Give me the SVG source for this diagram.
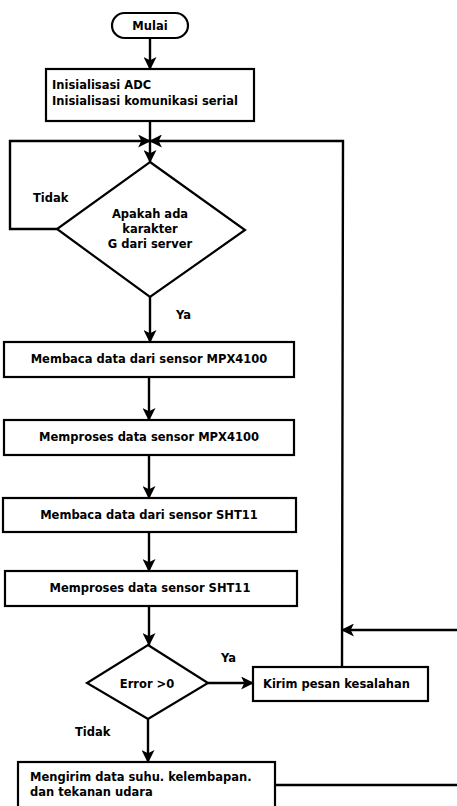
<svg xmlns="http://www.w3.org/2000/svg" width="457" height="806" viewBox="0 0 457 806">
  <style>
    .shape { fill: #ffffff; stroke: #000000; stroke-width: 2.2; }
    .line { fill: none; stroke: #000000; stroke-width: 2.4; }
    .t { font-family: "DejaVu Sans", "Liberation Sans", sans-serif; font-weight: bold; font-size: 11.5px; fill: #000000; }
    .c { text-anchor: middle; }
  </style>
  <defs>
    <marker id="arrow" viewBox="0 0 12 12" refX="11" refY="6" markerWidth="13" markerHeight="13" markerUnits="userSpaceOnUse" orient="auto">
      <path d="M0,0 L12,6 L0,12 L3,6 Z" fill="#000000"/>
    </marker>
  </defs>
  <rect width="457" height="806" fill="#ffffff"/>

  <g id="connectors">
    <line class="line" x1="150" y1="38" x2="150" y2="69" marker-end="url(#arrow)"/>
    <line class="line" x1="150" y1="121" x2="150" y2="141"/>
    <line class="line" x1="150" y1="141" x2="150" y2="162" marker-end="url(#arrow)"/>
    <polyline class="line" points="57,229 10,229 10,141 150,141" marker-end="url(#arrow)"/>
    <polyline class="line" points="342,667 343,141 150,141" marker-end="url(#arrow)"/>
    <line class="line" x1="150" y1="297" x2="150" y2="342" marker-end="url(#arrow)"/>
    <line class="line" x1="149" y1="377" x2="149" y2="420" marker-end="url(#arrow)"/>
    <line class="line" x1="149" y1="455" x2="149" y2="498" marker-end="url(#arrow)"/>
    <line class="line" x1="149" y1="532" x2="149" y2="571" marker-end="url(#arrow)"/>
    <line class="line" x1="149" y1="606" x2="149" y2="645" marker-end="url(#arrow)"/>
    <line class="line" x1="208" y1="683" x2="253" y2="683" marker-end="url(#arrow)"/>
    <line class="line" x1="148" y1="719" x2="148" y2="762" marker-end="url(#arrow)"/>
    <line class="line" x1="457" y1="630" x2="342" y2="630" marker-end="url(#arrow)"/>
    <line class="line" x1="275" y1="785" x2="457" y2="785"/>
    <text class="t" x="33" y="202">Tidak</text>
    <text class="t" x="176" y="319">Ya</text>
    <text class="t" x="221" y="662">Ya</text>
    <text class="t" x="75" y="736">Tidak</text>
  </g>

  <g id="start">
    <rect class="shape" x="112" y="13" width="76" height="25" rx="12.5"/>
    <text class="t c" x="150" y="30">Mulai</text>
  </g>

  <g id="init">
    <rect class="shape" x="46" y="69" width="208" height="52"/>
    <text class="t" x="52" y="89">Inisialisasi ADC</text>
    <text class="t" x="52" y="105">Inisialisasi komunikasi serial</text>
  </g>

  <g id="check-g">
    <polygon class="shape" points="150,162 245,230 150,297 57,229"/>
    <text class="t c" x="150" y="218">Apakah ada</text>
    <text class="t c" x="150" y="233">karakter</text>
    <text class="t c" x="150" y="248">G dari server</text>
  </g>

  <g id="read-mpx">
    <rect class="shape" x="4" y="342" width="290" height="35"/>
    <text class="t c" x="149" y="363">Membaca data dari sensor MPX4100</text>
  </g>

  <g id="proc-mpx">
    <rect class="shape" x="4" y="420" width="290" height="35"/>
    <text class="t c" x="149" y="441">Memproses data sensor MPX4100</text>
  </g>

  <g id="read-sht">
    <rect class="shape" x="3" y="498" width="293" height="34"/>
    <text class="t c" x="149" y="519">Membaca data dari sensor SHT11</text>
  </g>

  <g id="proc-sht">
    <rect class="shape" x="5" y="571" width="292" height="35"/>
    <text class="t c" x="150" y="592">Memproses data sensor SHT11</text>
  </g>

  <g id="check-error">
    <polygon class="shape" points="148,645 208,683 148,719 87,683"/>
    <text class="t c" x="147" y="688">Error &gt;0</text>
  </g>

  <g id="send-error">
    <rect class="shape" x="253" y="667" width="175" height="34"/>
    <text class="t" x="263" y="688">Kirim pesan kesalahan</text>
  </g>

  <g id="send-data">
    <rect class="shape" x="18" y="762" width="257" height="60"/>
    <text class="t" x="30" y="781">Mengirim data suhu. kelembapan.</text>
    <text class="t" x="30" y="796">dan tekanan udara</text>
  </g>
</svg>
